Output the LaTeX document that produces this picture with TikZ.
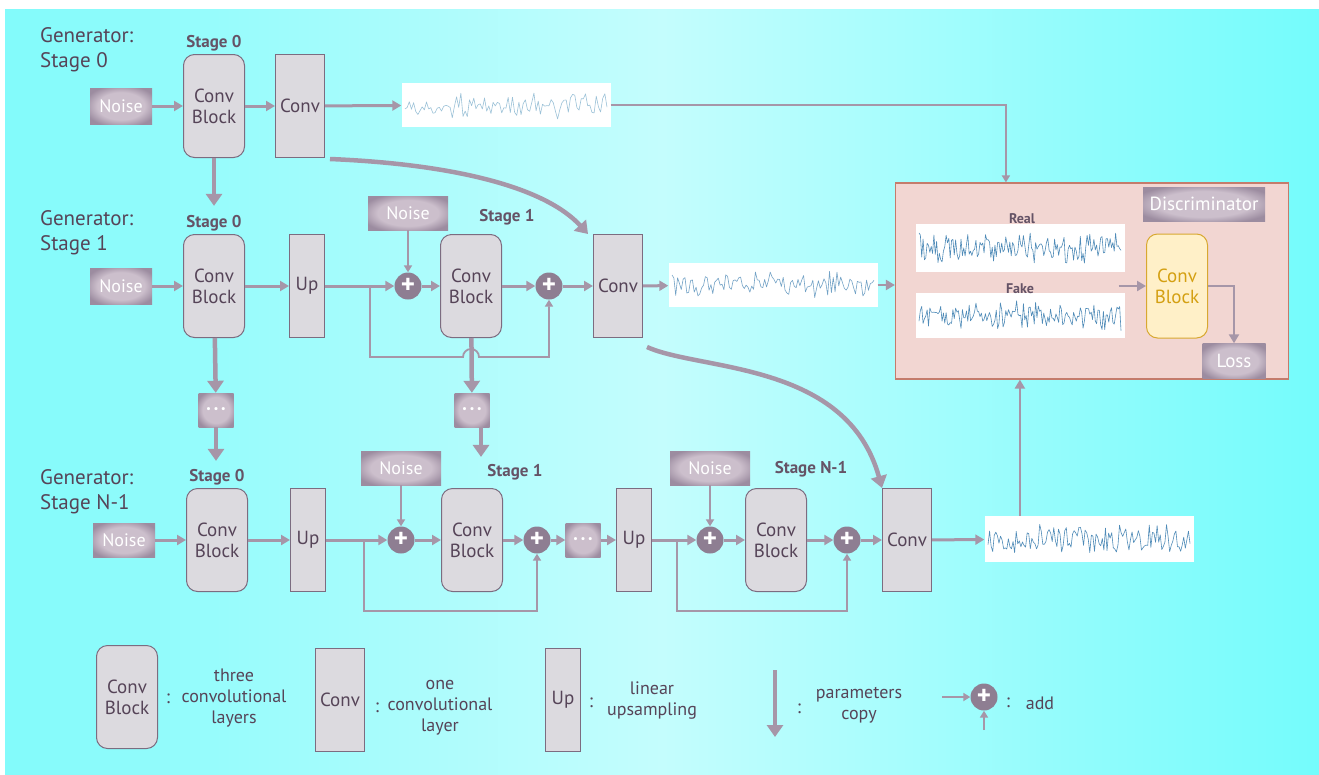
\documentclass[tikz,border=0pt]{standalone}
\usepackage{fontspec}
\setmainfont{PT Sans}
\usepackage{tikz}
\usetikzlibrary{arrows.meta,positioning,calc}

\definecolor{bgcyan}{HTML}{82FBFB}
\definecolor{bglight}{HTML}{C4FDFD}
\definecolor{bgcyanR}{HTML}{74FCFC}
\definecolor{boxfill}{HTML}{DCDADF}
\definecolor{boxedge}{HTML}{7C6C80}
\definecolor{txt}{HTML}{564458}
\definecolor{stagec}{HTML}{655366}
\definecolor{arrc}{HTML}{A696A8}
\definecolor{noiseL}{HTML}{CCBFCC}
\definecolor{noiseD}{HTML}{9C8CA0}
\definecolor{plusc}{HTML}{8E7E92}
\definecolor{wavec}{HTML}{4F8BB8}
\definecolor{wavelt}{HTML}{9CC2D8}
\definecolor{discfill}{HTML}{F2D6D2}
\definecolor{discedge}{HTML}{C47C6C}
\definecolor{dcbfill}{HTML}{FFF0C8}
\definecolor{dcbedge}{HTML}{D8A830}
\definecolor{dcbtxt}{HTML}{D4A012}

\pgfdeclareradialshading{vignette}{\pgfpoint{0bp}{0bp}}{color(0bp)=(noiseL); color(19bp)=(noiseL); color(30bp)=(noiseD); color(50bp)=(noiseD)}

% random trace inside a white signal node
\newcommand{\sigplot}[5]{% node, amplitude, samples, seed, colour
  \pgfmathsetseed{#4}
  \begin{scope}[shift={(#1.center)}]
    \draw[#5, line width=0.6pt, line join=round] plot[domain=-101:101, samples=#3] (\x, {#2*rand*(0.45+0.55*abs(rand))});
  \end{scope}}
\newcommand{\threedots}{\textbullet\hspace{2.5pt}\textbullet\hspace{2.5pt}\textbullet}

\begin{document}
\begin{tikzpicture}[x=1pt, y=-1pt,
  font=\fontsize{19}{21}\selectfont, text=txt,
  cblock/.style  ={draw=boxedge, fill=boxfill, line width=1pt, rounded corners=11pt, minimum width=61pt, minimum height=103pt, inner sep=0pt, align=center},
  convbox/.style ={draw=boxedge, fill=boxfill, line width=1pt, minimum width=49pt, minimum height=103pt, inner sep=0pt},
  upbox/.style   ={convbox, minimum width=35pt},
  noisebox/.style={shade, shading=vignette, minimum width=62pt, minimum height=36pt, inner sep=0pt, text=white, font=\fontsize{18}{20}\selectfont},
  topnoise/.style={noisebox, minimum width=80pt, minimum height=34pt},
  dotbox/.style  ={noisebox, minimum width=35pt, minimum height=34pt, font=\fontsize{11}{11}\selectfont},
  addnode/.style ={circle, fill=plusc, minimum size=27pt, inner sep=0pt, text=white, font=\bfseries\fontsize{27}{27}\selectfont},
  sig/.style     ={fill=white, inner sep=0pt, minimum width=209pt},
  stagelbl/.style={font=\bfseries\fontsize{17}{19}\selectfont, text=stagec, inner sep=0pt},
  genlbl/.style  ={anchor=north west, align=left, inner sep=0pt, font=\fontsize{21}{25}\selectfont},
  arr/.style     ={draw=arrc, line width=3pt, -{Triangle[length=9pt,width=10pt]}},
  thinarr/.style ={draw=arrc, line width=1.8pt, -{Triangle[length=7pt,width=8pt]}},
  copyarr/.style ={draw=arrc, line width=4.5pt, -{Triangle[length=12pt,width=16pt]}},
]
% background
\fill[white] (0,0) rectangle (1319,774);
\shade[left color=bgcyan, right color=bgcyanR, middle color=bglight] (5,9) rectangle (1319,774);
\useasboundingbox (0,0) rectangle (1319,774);

% ---- generator, stage 0
\node[genlbl] (g0) at (40,27) {Generator:\\Stage 0};
\node[noisebox] (n0) at (121,106) {Noise};
\node[cblock] (cb00) at (214,106) {Conv\\Block};
\node[stagelbl, above=3pt of cb00] (s00) {Stage 0};
\node[convbox] (cv0) at (300,106) {Conv};
\node[sig, minimum height=44pt] (w0) at (506,105) {};
\sigplot{w0}{15}{95}{11}{wavelt}
\draw[arr] (n0) -- (cb00);
\draw[arr] (cb00) -- (cv0);
\draw[arr] (cv0) -- (w0);

% ---- generator, stage 1
\node[genlbl] (g1) at (40,210) {Generator:\\Stage 1};
\node[noisebox] (n1) at (121,286) {Noise};
\node[cblock] (cb10) at (214,286) {Conv\\Block};
\node[stagelbl, above=3pt of cb10] (s10) {Stage 0};
\node[upbox] (up1) at (307,286) {Up};
\node[topnoise] (nz11) at (408,213) {Noise};
\node[addnode] (p11) at (408,286) {+};
\node[stagelbl] (s11) at (507,217) {Stage 1};
\node[cblock] (cb11) at (471,286) {Conv\\Block};
\node[addnode] (p12) at (549,286) {+};
\node[convbox] (cv1) at (618,286) {Conv};
\node[sig, minimum height=44pt] (w1) at (773,285) {};
\sigplot{w1}{15}{110}{23}{wavec!80}
\node[dotbox] (d11) at (216,410) {\threedots};
\node[dotbox] (d12) at (472,410) {\threedots};
\coordinate (sk1) at ([xshift=45pt]up1.east);
\draw[arr] (n1) -- (cb10);
\draw[arr] (cb10) -- (up1);
\draw[arr] (up1) -- (p11);
\draw[arr] (p11) -- (cb11);
\draw[arr] (cb11) -- (p12);
\draw[arr] (p12) -- (cv1);
\draw[arr] (cv1) -- (w1);
\draw[thinarr] (nz11) -- (p11);
\draw[thinarr] (sk1) |- ([xshift=-8pt,yshift=-19pt]cb11.south) arc[start angle=180, end angle=0, radius=8pt] -| (p12.south);

% ---- generator, stage N-1
\node[genlbl] (g2) at (40,469) {Generator:\\Stage N-1};
\node[noisebox, minimum height=34pt] (n2) at (124,540) {Noise};
\node[cblock] (cb20) at (217,540) {Conv\\Block};
\node[stagelbl, above=3pt of cb20] (s20) {Stage 0};
\node[upbox] (up2) at (308,540) {Up};
\node[topnoise] (nz21) at (401,468) {Noise};
\node[addnode] (p21) at (401,540) {+};
\node[stagelbl] (s21) at (515,472) {Stage 1};
\node[cblock] (cb21) at (472,540) {Conv\\Block};
\node[addnode] (p22) at (537,540) {+};
\node[dotbox] (dt2) at (583,540) {\threedots};
\node[upbox] (up3) at (634,540) {Up};
\node[topnoise] (nz22) at (710,468) {Noise};
\node[addnode] (p23) at (710,540) {+};
\node[stagelbl] (s22) at (811,469) {Stage N-1};
\node[cblock] (cb22) at (776,540) {Conv\\Block};
\node[addnode] (p24) at (847,540) {+};
\node[convbox] (cv2) at (907,540) {Conv};
\node[sig, minimum height=46pt] (w2) at (1089,539) {};
\sigplot{w2}{17}{130}{37}{wavec}
\coordinate (sk2) at ([xshift=38pt]up2.east);
\coordinate (sk3) at ([xshift=25pt]up3.east);
\draw[arr] (n2) -- (cb20);
\draw[arr] (cb20) -- (up2);
\draw[arr] (up2) -- (p21);
\draw[arr] (p21) -- (cb21);
\draw[arr] (cb21) -- (p22);
\draw[arr] (p22) -- (dt2);
\draw[arr] (dt2) -- (up3);
\draw[arr] (up3) -- (p23);
\draw[arr] (p23) -- (cb22);
\draw[arr] (cb22) -- (p24);
\draw[arr] (p24) -- (cv2);
\draw[arr] (cv2) -- (w2);
\draw[thinarr] (nz21) -- (p21);
\draw[thinarr] (nz22) -- (p23);
\draw[thinarr] (sk2) -- ++(0,71) -| (p22.south);
\draw[thinarr] (sk3) -- ++(0,71) -| (p24.south);

% ---- parameters copy
\coordinate (c12) at ([xshift=9pt]d12.south);
\draw[copyarr, shorten >=9pt] (cb00) -- (cb00 |- s10.north);
\draw[copyarr] (cb10) -- (d11);
\draw[copyarr, shorten >=8pt] (d11) -- (d11 |- s20.north);
\draw[copyarr] (cb11) -- (d12);
\draw[copyarr, shorten >=7pt] (c12) -- (c12 |- s21.north);
\draw[copyarr] ([shift={(5pt,-1pt)}]cv0.south east) .. controls +(120,5) and +(-44,-48) .. ([xshift=-5pt]cv1.north west);
\draw[copyarr] ([shift={(4pt,-9pt)}]cv1.south east) .. controls +(53,24) and +(-35,-127) .. (cv2.north west);

% ---- discriminator
\node[draw=discedge, fill=discfill, line width=1.2pt, minimum width=393pt, minimum height=196pt, inner sep=0pt] (disc) at (1092,281) {};
\node[noisebox, minimum width=122pt, minimum height=34pt, font=\fontsize{19}{21}\selectfont] (dtitle) at (1204,204) {Discriminator};
\node[sig, minimum height=48pt] (wreal) at (1020,248) {};
\sigplot{wreal}{18}{150}{5}{wavec}
\node[sig, minimum height=45pt] (wfake) at (1020,315) {};
\sigplot{wfake}{17}{150}{77}{wavec}
\node[stagelbl, font=\bfseries\fontsize{14}{16}\selectfont] (lreal) at (1022,219) {Real};
\node[stagelbl, font=\bfseries\fontsize{14}{16}\selectfont] (lfake) at (1020,289) {Fake};
\node[cblock, draw=dcbedge, fill=dcbfill, text=dcbtxt, minimum height=104pt] (dcb) at (1177,286) {Conv\\Block};
\node[noisebox, minimum width=63pt, minimum height=35pt, font=\fontsize{19}{21}\selectfont] (loss) at (1234,361) {Loss};
\draw[arr, line width=2.5pt] ($(wreal.east |- dcb.west)+(-6,0)$) -- (dcb.west);
\draw[arr, line width=2.5pt] (dcb.east) -| (loss.north);
\draw[thinarr, line width=2pt] (w0.east) -| ([xshift=111pt]disc.north west);
\draw[arr, line width=2.5pt] (w1) -- (w1 -| disc.west);
\coordinate (dbot) at ([xshift=125pt]disc.south west);
\draw[arr, line width=2.5pt] (w2.north -| dbot) -- (dbot);

% ---- legend
\node[cblock] (lcb) at (127,697) {Conv\\Block};
\node (lc1) at (168,699) {:};
\node[align=center, font=\fontsize{18}{21}\selectfont] (lt1) at (234,698) {three\\convolutional\\layers};
\node[convbox] (lcv) at (340,700) {Conv};
\node (lc2) at (377,708) {:};
\node[align=center, font=\fontsize{18}{21}\selectfont] (lt2) at (440,708) {one\\convolutional\\layer};
\node[upbox] (lup) at (563,700) {Up};
\node (lc3) at (591,703) {:};
\node[align=center, font=\fontsize{18}{21}\selectfont] (lt3) at (652,701) {linear\\upsampling};
\coordinate (la1) at (775,670);
\coordinate (la2) at (775,737);
\draw[copyarr, line width=3.5pt] (la1) -- (la2);
\node (lc4) at (799,709) {:};
\node[align=center, font=\fontsize{18}{21}\selectfont] (lt4) at (859,705) {parameters\\copy};
\node[addnode] (lp) at (984,697) {+};
\coordinate (lpa) at (942,697);
\coordinate (lpb) at (984,730);
\draw[thinarr] (lpa) -- (lp);
\draw[thinarr] (lpb) -- (lp);
\node (lc5) at (1008,703) {:};
\node[font=\fontsize{18}{21}\selectfont] (lt5) at (1040,703) {add};
\end{tikzpicture}
\end{document}
